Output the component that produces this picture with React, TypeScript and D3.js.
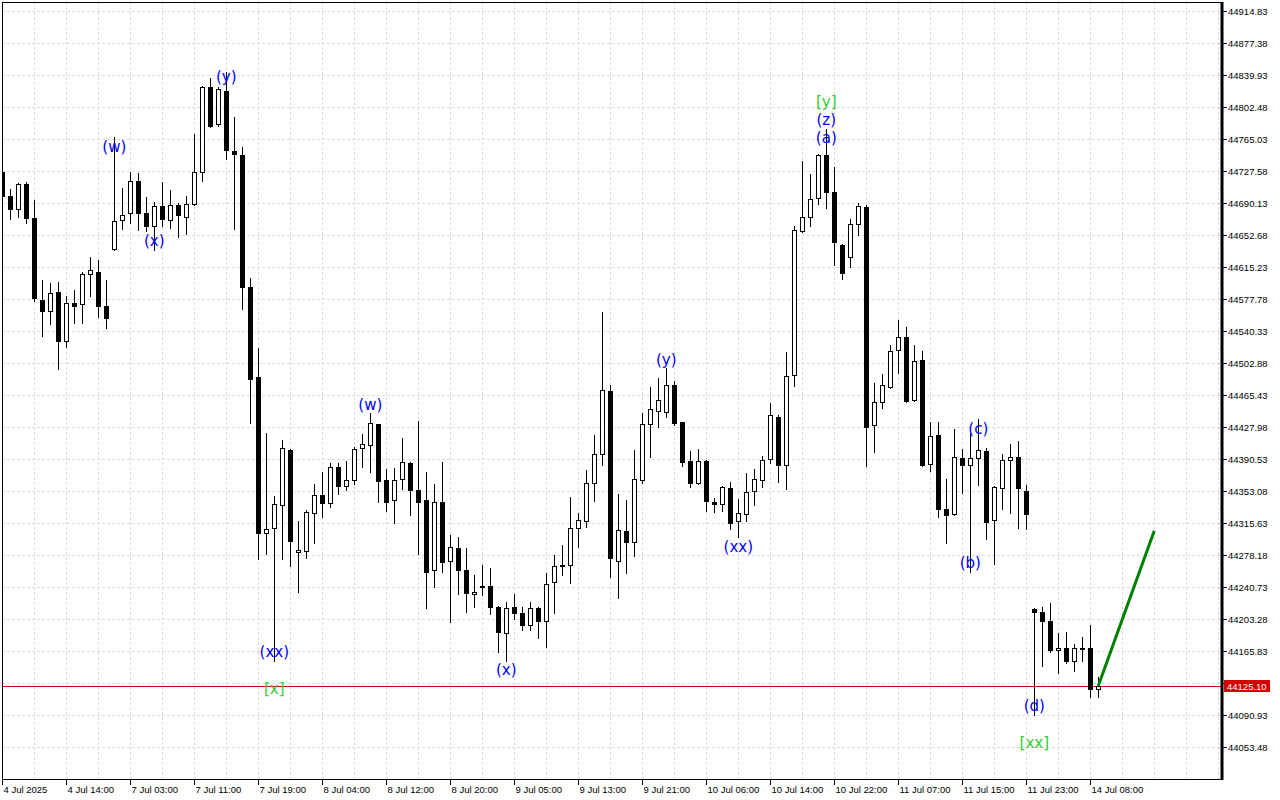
import React from 'react';
import * as d3 from 'd3';

const openP = [44726.4,44698.3,44683.1,44712.4,44672.6,44576.6,44563.7,44586.0,44528.6,44573.1,44571.9,44607.0,44609.4,44569.6,44636.3,44670.2,44678.4,44715.9,44678.4,44663.2,44686.6,44670.2,44687.8,44673.7,44689.0,44726.4,44825.9,44782.6,44821.2,44751.0,44746.3,44591.8,44486.5,44303.9,44309.8,44336.7,44401.1,44281.7,44282.9,44327.3,44348.4,44339.0,44381.2,44358.9,44366.0,44403.4,44406.9,44431.5,44366.0,44342.5,44367.1,44385.9,44354.3,44342.5,44260.6,44340.2,44271.2,44286.4,44260.6,44232.5,44241.9,44241.9,44217.3,44186.9,44217.3,44210.3,44196.3,44216.2,44200.9,44246.6,44265.3,44266.5,44309.8,44318.0,44362.4,44396.4,44470.1,44271.2,44306.3,44293.4,44366.0,44431.5,44446.7,44445.5,44477.1,44433.8,44388.2,44362.4,44388.2,44340.2,44337.9,44356.6,44318.0,44326.2,44353.1,44366.0,44390.5,44439.7,44383.5,44488.8,44657.4,44673.7,44696.0,44746.3,44703.0,44641.0,44626.9,44665.6,44685.4,44430.3,44457.2,44474.8,44518.1,44533.3,44459.6,44506.4,44384.7,44418.6,44332.0,44326.2,44391.7,44383.5,44391.7,44399.9,44319.1,44356.6,44389.4,44392.9,44353.1,44215.0,44211.5,44200.9,44167.0,44169.3,44154.1,44169.3,44169.3,44121.4];
const highP = [44731.1,44706.5,44713.5,44714.7,44693.6,44600.0,44596.5,44597.7,44581.3,44588.3,44609.4,44626.9,44623.4,44600.0,44767.4,44707.7,44726.4,44725.2,44697.2,44691.3,44714.7,44705.3,44690.1,44698.3,44770.9,44827.1,44836.4,44825.9,44843.4,44790.8,44755.7,44602.4,44520.4,44421.0,44347.2,44412.8,44402.2,44318.0,44330.8,44361.3,44375.3,44385.9,44385.9,44388.2,44404.6,44419.8,44444.4,44432.0,44378.8,44380.0,44415.1,44387.0,44435.0,44375.3,44361.3,44387.0,44301.6,44299.2,44286.4,44254.8,44266.5,44263.0,44218.5,44223.2,44232.5,44217.3,44223.2,44217.3,44257.1,44278.2,44289.9,44346.1,44327.3,44377.7,44418.6,44562.6,44477.1,44349.6,44342.5,44401.1,44444.4,44474.8,44485.3,44497.0,44481.8,44433.8,44399.9,44402.2,44389.4,44344.9,44358.9,44363.6,44343.7,44374.1,44378.8,44394.0,44456.1,44442.0,44515.8,44663.2,44739.3,44724.1,44747.5,44776.7,44732.3,44642.1,44671.4,44690.1,44687.8,44479.5,44490.0,44523.9,44553.2,44545.0,44523.9,44516.9,44433.8,44433.8,44367.1,44425.6,44402.2,44421.0,44437.3,44403.4,44358.9,44396.4,44408.1,44411.6,44360.1,44216.2,44217.3,44222.0,44186.9,44188.1,44174.0,44182.2,44196.3,44135.4];
const lowP = [44696.0,44671.4,44673.7,44666.7,44575.4,44534.5,44548.5,44495.9,44521.6,44549.7,44549.7,44581.3,44556.7,44543.8,44635.1,44659.7,44666.7,44658.5,44657.4,44635.1,44663.2,44660.9,44650.3,44653.9,44687.8,44715.9,44779.1,44780.2,44741.6,44659.7,44566.1,44432.7,44273.5,44279.4,44154.1,44273.5,44265.3,44234.9,44274.7,44292.2,44322.7,44334.4,44349.6,44354.3,44361.3,44381.2,44375.3,44340.2,44329.7,44315.6,44355.4,44325.0,44279.4,44216.2,44240.7,44258.3,44199.8,44232.5,44211.5,44217.3,44231.4,44209.1,44164.7,44154.1,44203.3,44190.4,44190.4,44181.0,44170.5,44210.3,44254.8,44245.4,44287.5,44311.0,44341.4,44383.5,44252.4,44227.9,44257.1,44277.0,44362.4,44392.9,44428.0,44439.7,44430.3,44382.3,44357.8,44361.3,44329.7,44328.5,44329.7,44308.6,44299.2,44318.0,44336.7,44357.8,44385.9,44363.6,44355.4,44476.0,44656.2,44663.2,44689.0,44684.3,44617.6,44601.2,44615.2,44652.7,44382.3,44398.7,44450.2,44473.6,44491.2,44457.2,44458.4,44382.3,44376.5,44322.7,44292.2,44325.0,44350.7,44258.3,44360.1,44296.9,44267.6,44332.0,44327.3,44309.8,44308.6,44090.9,44148.3,44164.7,44140.1,44151.8,44142.4,44154.1,44112.0,44112.0];
const closeP = [44698.3,44683.1,44712.4,44672.6,44579.0,44563.7,44584.8,44528.6,44573.1,44569.6,44607.0,44611.7,44569.6,44555.5,44669.1,44676.1,44715.9,44678.4,44663.2,44686.6,44671.4,44687.8,44676.1,44689.0,44726.4,44825.9,44780.2,44823.5,44752.2,44747.5,44591.8,44484.2,44303.9,44308.6,44337.9,44403.4,44294.6,44284.0,44328.5,44348.4,44339.0,44381.2,44358.9,44366.0,44402.2,44408.1,44432.7,44364.8,44340.2,44366.0,44387.0,44354.3,44340.2,44258.3,44340.2,44270.0,44287.5,44260.6,44233.7,44234.9,44240.7,44217.3,44188.1,44216.2,44210.3,44196.3,44216.2,44200.9,44244.2,44265.3,44266.5,44309.8,44319.1,44362.4,44396.4,44471.3,44274.7,44307.4,44293.4,44367.1,44431.5,44449.0,44459.6,44477.1,44432.7,44387.0,44362.4,44388.2,44341.4,44337.9,44357.8,44315.6,44327.3,44351.9,44367.1,44389.4,44442.0,44383.5,44487.7,44658.5,44673.7,44694.8,44746.3,44703.0,44644.5,44608.2,44665.6,44686.6,44428.0,44457.2,44477.1,44516.9,44533.3,44458.4,44505.2,44383.5,44417.4,44332.0,44325.0,44392.9,44383.5,44391.7,44401.1,44316.8,44357.8,44389.4,44392.9,44356.6,44326.2,44211.5,44200.9,44167.0,44169.3,44154.1,44169.3,44168.2,44121.4,44125.1];

const timeLabels = ['4 Jul 2025','4 Jul 14:00','7 Jul 03:00','7 Jul 11:00','7 Jul 19:00','8 Jul 04:00','8 Jul 12:00','8 Jul 20:00','9 Jul 05:00','9 Jul 13:00','9 Jul 21:00','10 Jul 06:00','10 Jul 14:00','10 Jul 22:00','11 Jul 07:00','11 Jul 15:00','11 Jul 23:00','14 Jul 08:00'];
const priceTicks = [44914.83,44877.38,44839.93,44802.48,44765.03,44727.58,44690.13,44652.68,44615.23,44577.78,44540.33,44502.88,44465.43,44427.98,44390.53,44353.08,44315.63,44278.18,44240.73,44203.28,44165.83,44128.38,44090.93,44053.48];
const currentPrice = 44125.10;
const projBars = [137, 144];
const projPrices = [44125.10, 44306.6];

const waveBars = [14,19,28,34,46,63,83,92,103,103,122,121,129];
const waveTexts = ['(w)','(x)','(y)','(xx)','(w)','(x)','(y)','(xx)','(z)','(a)','(c)','(b)','(d)'];
const wavePrices = [44755.7,44645.7,44837.6,44164.7,44453.7,44143.6,44506.4,44287.5,44787.3,44766.2,44425.6,44268.8,44101.5];
const degBars = [34,103,129];
const degTexts = ['[x]','[y]','[xx]'];
const degPrices = [44121.4,44808.3,44058.2];

const L = 2, R = 1222, T = 2, B = 779;

export default function App() {
  const x = d3.scaleLinear().domain([0, 152.5]).range([2.3, 1222.3]);
  const y = d3.scaleLinear().domain([44053.48, 44914.83]).range([747, 11]);
  const n = openP.length;
  const gridBars = d3.range(4, 153, 4);
  const axisFont = "'Liberation Sans', Arial, sans-serif";
  const waveFont = "'DejaVu Sans', Verdana, sans-serif";
  const py = (p: number) => Math.round(y(p));
  const px = (i: number) => Math.floor(x(i)) + 0.5;
  const curY = py(currentPrice);

  return (
    <div style={{ position: 'absolute', left: 0, top: 0 }}>
      <svg width={1280} height={800} style={{ display: 'block', background: '#fff' }}>
        <defs>
          <clipPath id="plot">
            <rect x={L + 1} y={T + 1} width={R - L - 2} height={B - T - 1} />
          </clipPath>
        </defs>
        <rect x={0} y={0} width={1280} height={800} fill="#fff" />
        <g stroke="#dcdcdc" strokeDasharray="3,2" strokeWidth={1}>
          {priceTicks.map((p, i) => (
            <line key={'h' + i} x1={L} x2={R} y1={py(p) + 0.5} y2={py(p) + 0.5} />
          ))}
          {gridBars.map((b) => (
            <line key={'v' + b} x1={px(b)} x2={px(b)} y1={T} y2={B} />
          ))}
        </g>
        <g clipPath="url(#plot)">
          <line x1={L} x2={R} y1={curY + 0.5} y2={curY + 0.5} stroke="#e00000" strokeWidth={1} />
          {d3.range(n).map((i) => {
            const cx = px(i);
            const o = py(openP[i]);
            const c = py(closeP[i]);
            const top = Math.min(o, c);
            const h = Math.max(Math.abs(o - c), 1);
            const bear = closeP[i] < openP[i];
            return (
              <g key={i}>
                <line x1={cx} x2={cx} y1={py(highP[i])} y2={py(lowP[i]) + 1} stroke="#000" strokeWidth={1} />
                <rect x={cx - 2} y={top + 0.5} width={4} height={h} fill={bear ? '#000' : '#fff'} stroke="#000" strokeWidth={1} />
              </g>
            );
          })}
          <line x1={x(projBars[0])} y1={y(projPrices[0])} x2={x(projBars[1])} y2={y(projPrices[1])} stroke="#008000" strokeWidth={3} />
          {waveTexts.map((t, i) => (
            <text key={'w' + i} x={x(waveBars[i])} y={y(wavePrices[i])} textAnchor="middle" dominantBaseline="central" fontFamily={waveFont} fontSize={15} fill="#0000ff">{t}</text>
          ))}
          {degTexts.map((t, i) => (
            <text key={'d' + i} x={x(degBars[i])} y={y(degPrices[i])} textAnchor="middle" dominantBaseline="central" fontFamily={waveFont} fontSize={15} fill="#32cd32">{t}</text>
          ))}
        </g>
        <g stroke="#000" fill="none">
          <line x1={L + 0.5} x2={L + 0.5} y1={T} y2={B} strokeWidth={1} />
          <line x1={L} x2={R} y1={T + 0.5} y2={T + 0.5} strokeWidth={1} />
          <line x1={L} x2={R} y1={B + 0.5} y2={B + 0.5} strokeWidth={1} />
          <line x1={R} x2={R} y1={T} y2={B + 1} strokeWidth={3} />
        </g>
        <g fontFamily={axisFont} fontSize={9.5} fill="#000">
          {priceTicks.map((p, i) => {
            const ty = py(p);
            const hidden = Math.abs(ty - curY) < 10;
            return (
              <g key={'pt' + i}>
                <line x1={R + 1} x2={R + 5} y1={ty + 0.5} y2={ty + 0.5} stroke="#000" />
                {!hidden && <text x={R + 6} y={ty + 0.5} dominantBaseline="central">{p.toFixed(2)}</text>}
              </g>
            );
          })}
          {timeLabels.map((t, j) => (
            <g key={'tl' + j}>
              <line x1={px(j * 8)} x2={px(j * 8)} y1={B + 1} y2={B + 6} stroke="#000" />
              <text x={px(j * 8) + 1} y={789} dominantBaseline="central">{t}</text>
            </g>
          ))}
          <rect x={R + 2} y={curY - 6} width={46} height={12} fill="#d40000" />
          <text x={R + 5} y={curY + 0.5} dominantBaseline="central" fill="#fff">{currentPrice.toFixed(2)}</text>
        </g>
      </svg>
    </div>
  );
}
